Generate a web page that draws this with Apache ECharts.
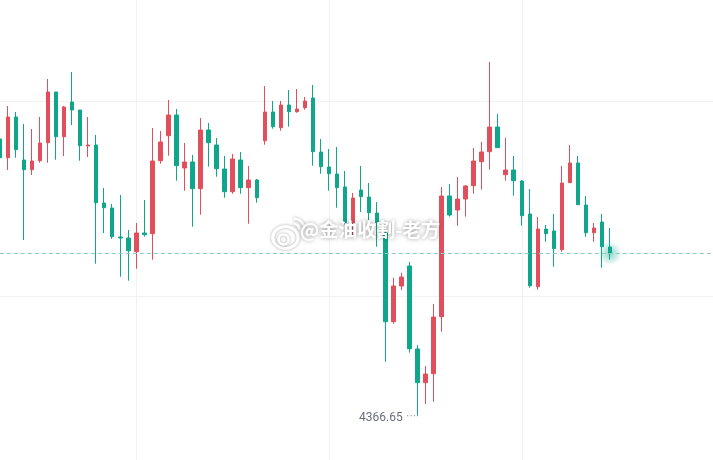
<!DOCTYPE html>
<html>
<head>
<meta charset="utf-8">
<script src="https://cdn.jsdelivr.net/npm/echarts@6/dist/echarts.min.js"></script>
<style>
    html, body { margin: 0; padding: 0; background: #fff; }
    #chart { width: 713px; height: 460px; }
</style>
</head>
<body>
<div id="chart"></div>
<script>
// K线数据 (开 / 收 / 低 / 高)
const opens = [
    4444.39, 4439.12, 4450.58, 4438.48, 4435.75, 4438.28, 4443.34, 4457.62, 4445.03, 4454.80,
    4452.55, 4442.42, 4442.70, 4426.37, 4424.96, 4416.80, 4416.52, 4412.66, 4417.93, 4417.73,
    4438.28, 4445.32, 4451.14, 4436.22, 4437.91, 4430.40, 4446.92, 4442.70, 4435.94, 4429.55,
    4438.48, 4430.68, 4432.85, 4443.91, 4451.99, 4447.57, 4453.96, 4452.07, 4453.20, 4455.93,
    4440.73, 4436.51, 4434.53, 4430.88, 4420.83, 4430.03, 4428.06, 4423.56, 4417.93, 4392.96,
    4403.01, 4408.64, 4385.28, 4375.79, 4378.33, 4394.37, 4428.34, 4424.40, 4427.50, 4431.24,
    4438.00, 4440.81, 4447.76, 4434.34, 4435.66, 4432.56, 4423.28, 4402.81, 4419.05, 4418.49,
    4413.23, 4432.09, 4437.63, 4425.81, 4418.01, 4421.02, 4413.99
];
const closes = [
    4439.12, 4450.58, 4441.37, 4435.75, 4438.19, 4443.26, 4457.62, 4445.03, 4453.39, 4452.55,
    4442.50, 4442.70, 4426.46, 4425.05, 4416.89, 4416.52, 4412.95, 4417.93, 4417.45, 4438.19,
    4443.54, 4451.14, 4436.87, 4437.91, 4430.40, 4446.92, 4443.34, 4436.03, 4429.55, 4438.76,
    4430.68, 4432.85, 4427.86, 4451.99, 4447.85, 4453.96, 4452.07, 4452.83, 4455.08, 4440.81,
    4436.59, 4434.62, 4430.68, 4420.88, 4427.78, 4428.15, 4423.64, 4420.83, 4392.96, 4403.01,
    4405.54, 4385.36, 4375.79, 4378.24, 4394.28, 4428.34, 4422.99, 4427.50, 4431.16, 4438.19,
    4440.73, 4447.76, 4441.94, 4435.66, 4432.65, 4422.80, 4403.09, 4419.05, 4417.73, 4413.51,
    4432.00, 4437.63, 4425.89, 4418.01, 4419.34, 4414.07, 4412.20
];
const lows = [
    4438.48, 4435.66, 4439.12, 4415.96, 4434.25, 4437.72, 4437.72, 4438.56, 4439.60, 4448.33,
    4438.28, 4439.32, 4409.29, 4417.93, 4416.32, 4405.63, 4404.50, 4407.88, 4416.89, 4410.41,
    4437.43, 4439.69, 4432.65, 4429.83, 4419.70, 4423.08, 4436.59, 4433.77, 4427.86, 4428.99,
    4428.99, 4420.55, 4426.46, 4442.78, 4447.29, 4446.72, 4447.85, 4451.79, 4452.63, 4436.87,
    4434.62, 4429.83, 4425.05, 4420.32, 4417.37, 4423.84, 4421.02, 4414.07, 4381.70, 4392.40,
    4401.88, 4384.24, 4366.65, 4369.80, 4370.44, 4390.15, 4422.52, 4419.98, 4422.52, 4428.99,
    4430.12, 4435.75, 4441.94, 4432.65, 4428.43, 4419.98, 4402.53, 4401.97, 4415.48, 4408.44,
    4412.66, 4432.09, 4425.89, 4416.89, 4415.48, 4408.16, 4410.41
];
const highs = [
    4445.23, 4453.67, 4451.99, 4448.61, 4447.20, 4450.58, 4461.27, 4457.62, 4453.67, 4463.24,
    4452.55, 4450.58, 4445.51, 4430.59, 4426.09, 4428.62, 4418.77, 4420.74, 4427.22, 4447.48,
    4446.64, 4455.36, 4452.83, 4443.26, 4439.88, 4450.30, 4448.89, 4444.67, 4439.60, 4440.16,
    4440.73, 4436.79, 4433.13, 4459.30, 4455.08, 4455.08, 4458.18, 4458.46, 4456.21, 4459.59,
    4444.39, 4441.57, 4442.13, 4435.38, 4429.19, 4436.79, 4432.00, 4426.65, 4418.21, 4405.35,
    4406.75, 4409.77, 4386.40, 4380.49, 4397.94, 4430.88, 4431.72, 4433.69, 4431.44, 4441.85,
    4443.54, 4466.06, 4451.42, 4444.67, 4439.60, 4432.85, 4430.31, 4422.43, 4420.18, 4423.28,
    4436.79, 4442.70, 4439.60, 4428.34, 4420.74, 4423.28, 4419.34
];
// 横轴槽位 (图中无标签, 右侧留空)
const categories = Array.from({ length: 90 }, (v, i) => String(i + 1));
const watermark = "@金油收割-老方";

const UP = "#e04f5b";
const DOWN = "#0fa68b";

let myChart = echarts.init(document.getElementById("chart"));

let kData = opens.map((o, i) => [o, closes[i], lows[i], highs[i]]);
let lastIdx = closes.length - 1;
let lastClose = closes[lastIdx];

const shadow = {
    shadowColor: "rgba(0,0,0,0.35)",
    shadowBlur: 3,
};

const opts = {
    animation: false,
    grid: {
        left: -0.2,
        right: -1.5,
        top: -94.1,
        bottom: -32.1,
        outerBoundsMode: "none",
    },
    xAxis: {
        type: "category",
        data: categories,
        boundaryGap: false,
        axisLine: { show: false },
        axisTick: { show: false },
        axisLabel: { show: false },
        splitLine: {
            show: true,
            interval: function (index) {
                return index % 24 === 17;
            },
            lineStyle: { color: "#f2f2f5", width: 1 },
        },
    },
    yAxis: {
        type: "value",
        min: 4345,
        max: 4510,
        interval: 55,
        axisLine: { show: false },
        axisTick: { show: false },
        axisLabel: { show: false },
        splitLine: {
            lineStyle: { color: "#f2f2f5", width: 1 },
        },
    },
    graphic: [
        {
            type: "group",
            left: 270,
            top: 216,
            silent: true,
            children: [
                {
                    type: "circle",
                    shape: { cx: 14, cy: 18, r: 11 },
                    scaleX: 1.15,
                    originX: 14,
                    originY: 18,
                    style: Object.assign({ fill: "none", stroke: "#ffffff", lineWidth: 3 }, shadow),
                },
                {
                    type: "circle",
                    shape: { cx: 12, cy: 20, r: 5 },
                    style: Object.assign({ fill: "none", stroke: "#ffffff", lineWidth: 2.5 }, shadow),
                },
                {
                    type: "arc",
                    shape: { cx: 22, cy: 10, r: 6, startAngle: -Math.PI / 2, endAngle: 0 },
                    style: Object.assign({ stroke: "#ffffff", lineWidth: 2.5 }, shadow),
                },
                {
                    type: "arc",
                    shape: { cx: 22, cy: 10, r: 11, startAngle: -Math.PI / 2, endAngle: 0 },
                    style: Object.assign({ stroke: "#ffffff", lineWidth: 2.5 }, shadow),
                },
            ],
        },
        {
            type: "text",
            left: 300,
            top: 220,
            silent: true,
            z: 100,
            style: {
                text: watermark,
                fill: "#ffffff",
                font: "bold 19px 'Noto Sans CJK SC', sans-serif",
                textShadowColor: "rgba(0,0,0,0.4)",
                textShadowBlur: 4,
            },
        },
    ],
    series: [
        {
            type: "candlestick",
            data: kData,
            barWidth: 4,
            itemStyle: {
                color: UP,
                color0: DOWN,
                borderColor: UP,
                borderColor0: DOWN,
                borderWidth: 1,
            },
            markLine: {
                silent: true,
                symbol: ["none", "none"],
                label: { show: false },
                lineStyle: { color: "#86cfbe", type: [4, 3], width: 1, opacity: 1 },
                data: [{ yAxis: lastClose }],
            },
            markPoint: {
                symbol: "circle",
                symbolSize: 0,
                data: [{ type: "min", valueDim: "lowest" }],
                label: {
                    show: true,
                    position: "left",
                    distance: 0,
                    offset: [2, 3],
                    formatter: function (p) {
                        return "{v|" + Number(p.value).toFixed(2) + "} {d|····}";
                    },
                    rich: {
                        v: { color: "#6b6e7a", fontSize: 12, lineHeight: 14, fontFamily: "Roboto, sans-serif" },
                        d: { color: "#8a8d99", fontSize: 10, lineHeight: 10, verticalAlign: "top" },
                    },
                },
            },
            z: 2,
        },
        {
            type: "scatter",
            data: [[lastIdx, lastClose]],
            symbolSize: 24,
            silent: true,
            z: 3,
            itemStyle: {
                color: {
                    type: "radial",
                    x: 0.5,
                    y: 0.5,
                    r: 0.5,
                    colorStops: [
                        { offset: 0, color: "rgba(15,166,139,0.6)" },
                        { offset: 0.4, color: "rgba(15,166,139,0.35)" },
                        { offset: 1, color: "rgba(15,166,139,0)" },
                    ],
                },
            },
        },
    ],
};
myChart.setOption(opts);
</script>
</body>
</html>
